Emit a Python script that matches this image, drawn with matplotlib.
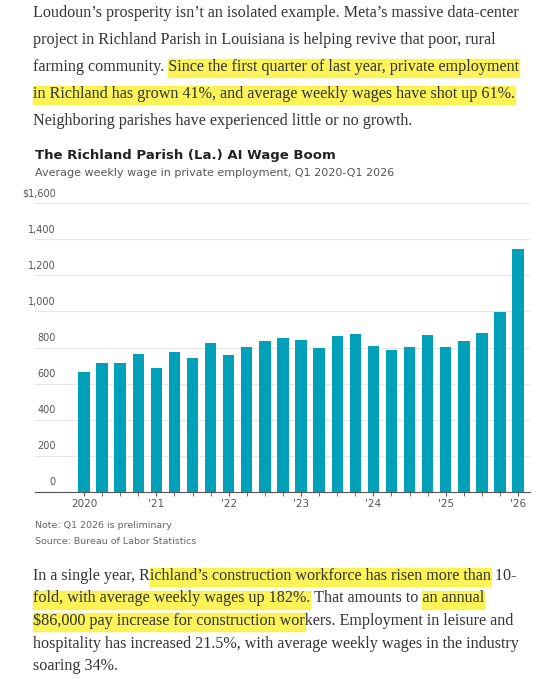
import numpy as np
import matplotlib.pyplot as plt
from matplotlib.patches import Rectangle

W, H = 545, 679

quarters = ["Q1 2020", "Q2 2020", "Q3 2020", "Q4 2020",
            "Q1 2021", "Q2 2021", "Q3 2021", "Q4 2021",
            "Q1 2022", "Q2 2022", "Q3 2022", "Q4 2022",
            "Q1 2023", "Q2 2023", "Q3 2023", "Q4 2023",
            "Q1 2024", "Q2 2024", "Q3 2024", "Q4 2024",
            "Q1 2025", "Q2 2025", "Q3 2025", "Q4 2025",
            "Q1 2026"]
wages = [662, 716, 716, 766, 688, 773, 742, 827, 756, 804, 836, 854,
         843, 795, 863, 876, 810, 786, 804, 871, 804, 836, 880, 994, 1345]
year_labels = ["2020", "'21", "'22", "'23", "'24", "'25", "'26"]
y_ticks = [0, 200, 400, 600, 800, 1000, 1200, 1400, 1600]
y_tick_labels = ["0", "200", "400", "600", "800", "1,000", "1,200", "1,400", "$1,600"]

para_top = [
    "Loudoun\u2019s prosperity isn\u2019t an isolated example. Meta\u2019s massive data-center",
    "project in Richland Parish in Louisiana is helping revive that poor, rural",
    "farming community. Since the first quarter of last year, private employment",
    "in Richland has grown 41%, and average weekly wages have shot up 61%.",
    "Neighboring parishes have experienced little or no growth.",
]
para_bottom = [
    "In a single year, Richland\u2019s construction workforce has risen more than 10-",
    "fold, with average weekly wages up 182%. That amounts to an annual",
    "$86,000 pay increase for construction workers. Employment in leisure and",
    "hospitality has increased 21.5%, with average weekly wages in the industry",
    "soaring 34%.",
]
# (paragraph, line, highlighted substring)
marks = [(0, 2, "Since the first quarter of last year, private employment"),
         (0, 3, "in Richland has grown 41%, and average weekly wages have shot up 61%."),
         (1, 0, "ichland\u2019s construction workforce has risen more than"),
         (1, 1, "fold, with average weekly wages up 182%."),
         (1, 1, "an annual"),
         (1, 2, "$86,000 pay increase for construction wor")]

fig = plt.figure(figsize=(W / 100, H / 100), dpi=100)
fig.patch.set_facecolor("white")
renderer = fig.canvas.get_renderer()


def fx(x):
    return x / W


def fy(y):
    return 1 - y / H


serif = "Liberation Serif"
fs = 11.6
paras = [(para_top, 13, 27), (para_bottom, 576, 22.5)]


def text_w(s):
    t = fig.text(0, 0, s, fontsize=fs, family=serif)
    w = t.get_window_extent(renderer).width
    t.remove()
    return w


for p, li, sub in marks:
    lines, y0, dy = paras[p]
    line = lines[li]
    start = line.index(sub)
    x0 = 33 + (text_w(line[:start]) if start else 0)
    x1 = 33 + text_w(line[:start + len(sub)])
    yc = y0 + li * dy + 1
    fig.patches.append(Rectangle((fx(x0), fy(yc + 9)), fx(x1 - x0), 18 / H,
                                 transform=fig.transFigure, color="#fbf23b",
                                 alpha=0.85, zorder=0))

for lines, y0, dy in paras:
    for i, line in enumerate(lines):
        fig.text(fx(33), fy(y0 + i * dy), line, fontsize=fs, family=serif,
                 color="#333333", va="center", ha="left", zorder=2)

fig.text(fx(35), fy(156), "The Richland Parish (La.) AI Wage Boom", fontsize=9.5,
         fontweight="bold", color="#222222", va="center")
fig.text(fx(35), fy(173), "Average weekly wage in private employment, Q1 2020-Q1 2026",
         fontsize=8, color="#555555", va="center")
fig.text(fx(35), fy(526), "Note: Q1 2026 is preliminary", fontsize=6.8, color="#666666", va="center")
fig.text(fx(35), fy(541), "Source: Bureau of Labor Statistics", fontsize=6.8, color="#666666", va="center")

ax = fig.add_axes([fx(35), fy(492), fx(530 - 35), (492 - 203) / H])
x = np.arange(len(wages))
ax.bar(x, wages, width=0.63, color="#00a0b8", zorder=3)
ax.set_xlim(-2.71, 24.66)
ax.set_ylim(0, 1600)
for s in ["top", "right", "left"]:
    ax.spines[s].set_visible(False)
ax.spines["bottom"].set_color("#555555")
ax.set_yticks(y_ticks)
ax.set_yticklabels([])
ax.tick_params(axis="y", length=0)
ax.grid(axis="y", color="#e6e6e6", lw=0.8, zorder=0)
for v, lab in zip(y_ticks, y_tick_labels):
    ax.text(-1.55, v + 25, lab, ha="right", va="bottom", fontsize=7, color="#555555")
ax.set_xticks(x, minor=True)
ax.set_xticks(x[::4])
ax.set_xticklabels(year_labels, fontsize=7.5, color="#555555")
ax.tick_params(axis="x", which="both", length=3, color="#555555", pad=2)

fig.savefig("out.png", dpi=100)
